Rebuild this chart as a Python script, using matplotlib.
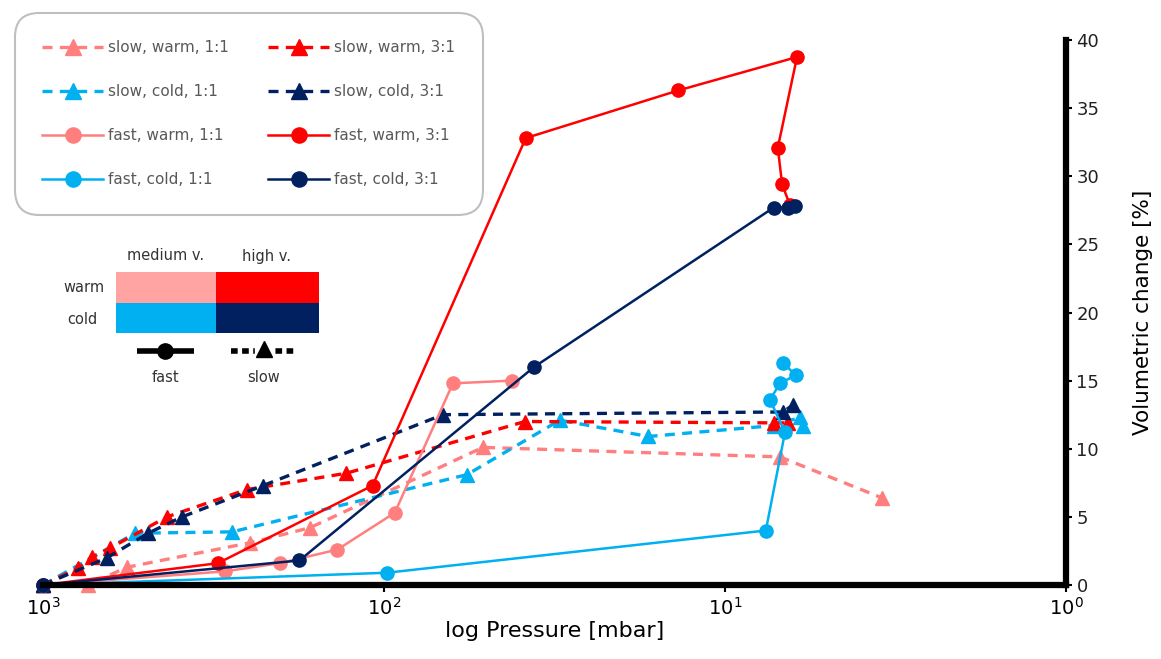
"""
Volumetric change vs pressure (log, decreasing) for fast/slow, warm/cold, 1:1 / 3:1
"""
import numpy as np
import matplotlib.pyplot as plt
from matplotlib.patches import Rectangle

# ---------------------------------------------
# data (pressure in mbar, volumetric change in %)
# ---------------------------------------------
P_sw11 = [1000, 738, 568, 247, 165, 51.3, 6.9, 3.47]
V_sw11 = [0, 0, 1.3, 3.1, 4.2, 10.1, 9.4, 6.4]

P_sc11 = [1000, 537, 279, 57.1, 30.5, 16.8, 7.2, 6.03, 5.9]
V_sc11 = [0, 3.8, 3.9, 8.1, 12.1, 10.9, 11.7, 12.3, 11.7]

P_sw31 = [1000, 789, 718, 637, 433, 253, 129, 38.6, 7.2, 6.53]
V_sw31 = [0, 1.25, 2.05, 2.7, 5.0, 7.0, 8.2, 12.0, 11.9, 11.9]

P_sc31 = [1000, 649, 492, 391, 226, 67.2, 6.76, 6.33]
V_sc31 = [0, 2.0, 3.8, 5.0, 7.3, 12.5, 12.7, 13.2]

P_fw11 = [1000, 293, 202, 137, 93, 62.8, 42.2]
V_fw11 = [0, 1.0, 1.6, 2.6, 5.3, 14.8, 15.0]

P_fc11 = [1000, 98, 7.59, 6.67, 7.38, 6.9, 6.2, 6.76]
V_fc11 = [0, 0.9, 4.0, 11.2, 13.6, 14.8, 15.4, 16.3]

P_fw31 = [1000, 307, 108, 38.4, 13.7, 6.15, 7.0, 6.8, 6.45]
V_fw31 = [0, 1.6, 7.3, 32.8, 36.3, 38.75, 32.1, 29.4, 27.9]

P_fc31 = [1000, 177, 36.3, 7.2, 6.53, 6.24]
V_fc31 = [0, 1.8, 16.0, 27.7, 27.7, 27.8]

PINK  = "#ff7f7f"
RED   = "#ff0000"
CYAN  = "#00b0f0"
NAVY  = "#002060"
LPINK = "#ffa3a3"

# (P, V, color, style, label)
SERIES = [
    (P_sw11, V_sw11, PINK, "slow", "slow, warm, 1:1"),
    (P_sc11, V_sc11, CYAN, "slow", "slow, cold, 1:1"),
    (P_sw31, V_sw31, RED,  "slow", "slow, warm, 3:1"),
    (P_sc31, V_sc31, NAVY, "slow", "slow, cold, 3:1"),
    (P_fw11, V_fw11, PINK, "fast", "fast, warm, 1:1"),
    (P_fc11, V_fc11, CYAN, "fast", "fast, cold, 1:1"),
    (P_fw31, V_fw31, RED,  "fast", "fast, warm, 3:1"),
    (P_fc31, V_fc31, NAVY, "fast", "fast, cold, 3:1"),
]

fig = plt.figure(figsize=(11.61, 6.59), dpi=100)
ax = fig.add_axes([43 / 1161, 1 - 585 / 659, (1066 - 43) / 1161, (585 - 40) / 659])

handles = {}
for P, V, color, kind, label in SERIES:
    if kind == "slow":
        ln, = ax.plot(P, V, color=color, lw=2.4, ls=(0, (3, 2.2)), marker="^",
                      ms=10, clip_on=False)
    else:
        ln, = ax.plot(P, V, color=color, lw=1.8, ls="-", marker="o",
                      ms=9.5, clip_on=False)
    handles[label] = ln

ax.set_xscale("log")
ax.set_xlim(1000, 1)
ax.set_ylim(0, 40)
ax.set_xticks([1000, 100, 10, 1])
ax.minorticks_off()
ax.tick_params(axis="x", labelsize=14, length=5, width=1.5, direction="out")

ax.yaxis.tick_right()
ax.yaxis.set_label_position("right")
ax.set_yticks(np.arange(0, 41, 5))
ax.tick_params(axis="y", labelsize=13, length=4, width=1.5, labelcolor="#222222")
ax.set_ylabel("Volumetric change [%]", fontsize=15.5, labelpad=24)
ax.set_xlabel("log Pressure [mbar]", fontsize=16, labelpad=2)

ax.spines[["top", "left"]].set_visible(False)
ax.spines["right"].set_linewidth(4.5)
ax.spines["bottom"].set_linewidth(4.5)

# legend (two columns)
order = ["slow, warm, 1:1", "slow, cold, 1:1", "fast, warm, 1:1", "fast, cold, 1:1",
         "slow, warm, 3:1", "slow, cold, 3:1", "fast, warm, 3:1", "fast, cold, 3:1"]
leg = fig.legend([handles[k] for k in order], order, ncol=2,
                 loc="upper left", bbox_to_anchor=(10 / 1161, 1 - 8 / 659),
                 fontsize=11, labelcolor="#595959", handlelength=4,
                 labelspacing=1.9, columnspacing=2.6, borderpad=1.6,
                 handletextpad=0.3, markerscale=1.15, fancybox=True, framealpha=1)
leg.get_frame().set_edgecolor("#bfbfbf")
leg.get_frame().set_linewidth(1.5)
leg.get_frame().set_boxstyle("round,pad=0.2,rounding_size=1.6")

# inset key: colours and line styles
kx = fig.add_axes([0, 1 - 400 / 659, 360 / 1161, 170 / 659])
kx.set_xlim(0, 360)
kx.set_ylim(400, 230)
kx.axis("off")
kx.add_patch(Rectangle((116, 272), 100, 31, color=LPINK, lw=0))
kx.add_patch(Rectangle((216, 272), 103, 31, color=RED, lw=0))
kx.add_patch(Rectangle((116, 303), 100, 30, color=CYAN, lw=0))
kx.add_patch(Rectangle((216, 303), 103, 30, color=NAVY, lw=0))
kx.text(166, 256, "medium v.", ha="center", va="center", fontsize=10.5, color="#333333")
kx.text(267, 256, "high v.", ha="center", va="center", fontsize=10.5, color="#333333")
kx.text(105, 287, "warm", ha="right", va="center", fontsize=10.5, color="#333333")
kx.text(97, 319, "cold", ha="right", va="center", fontsize=10.5, color="#333333")
kx.plot([137, 194], [351, 351], color="black", lw=4, solid_capstyle="butt")
kx.plot([165], [351], color="black", marker="o", ms=11)
kx.plot([231, 296], [351, 351], color="black", lw=4, ls=(0, (1.2, 0.8)))
kx.plot([264], [348], color="white", marker="s", ms=13)
kx.plot([264], [349], color="black", marker="^", ms=12)
kx.text(165, 377, "fast", ha="center", va="center", fontsize=10.5, color="#333333")
kx.text(264, 377, "slow", ha="center", va="center", fontsize=10.5, color="#333333")

plt.savefig("out.png", dpi=100)
plt.close()
